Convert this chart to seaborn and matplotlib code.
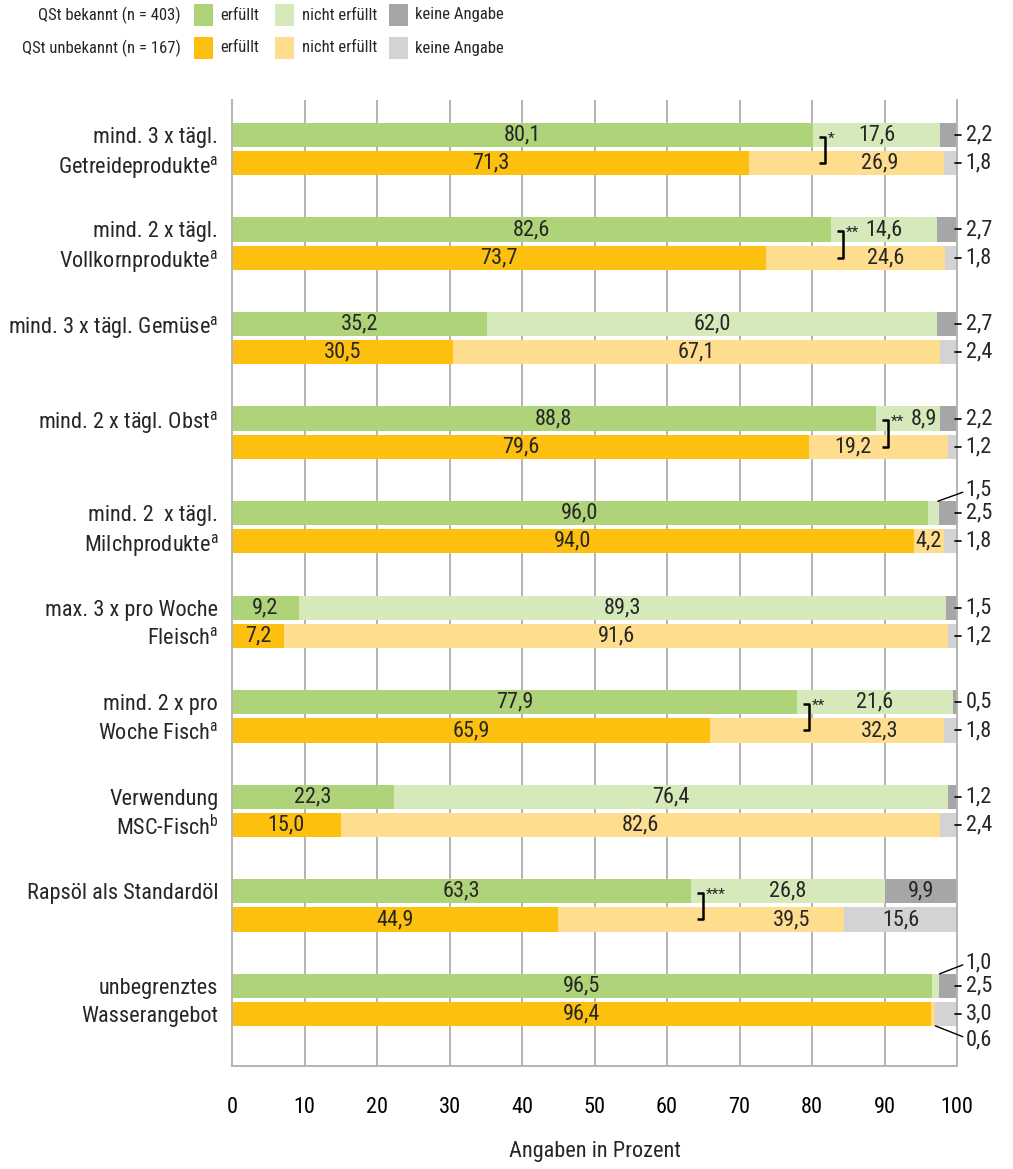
import matplotlib
matplotlib.use("Agg")
import numpy as np
import pandas as pd
import seaborn as sns
import matplotlib.pyplot as plt
from matplotlib import font_manager as fm
from matplotlib.patches import Rectangle

# ---------------- data ----------------
line1 = ["mind. 3 x tägl.", "mind. 2 x tägl.",
         "mind. 3 x tägl. Gemüse$^{\\mathrm{a}}$", "mind. 2 x tägl. Obst$^{\\mathrm{a}}$",
         "mind. 2  x tägl.", "max. 3 x pro Woche", "mind. 2 x pro", "Verwendung",
         "Rapsöl als Standardöl", "unbegrenztes"]
line2 = ["Getreideprodukte$^{\\mathrm{a}}$", "Vollkornprodukte$^{\\mathrm{a}}$", "", "",
         "Milchprodukte$^{\\mathrm{a}}$", "Fleisch$^{\\mathrm{a}}$", "Woche Fisch$^{\\mathrm{a}}$",
         "MSC-Fisch$^{\\mathrm{b}}$", "", "Wasserangebot"]

known_met = [80.1, 82.6, 35.2, 88.8, 96.0, 9.2, 77.9, 22.3, 63.3, 96.5]
known_not = [17.6, 14.6, 62.0, 8.9, 1.5, 89.3, 21.6, 76.4, 26.8, 1.0]
known_na = [2.2, 2.7, 2.7, 2.2, 2.5, 1.5, 0.5, 1.2, 9.9, 2.5]
unk_met = [71.3, 73.7, 30.5, 79.6, 94.0, 7.2, 65.9, 15.0, 44.9, 96.4]
unk_not = [26.9, 24.6, 67.1, 19.2, 4.2, 91.6, 32.3, 82.6, 39.5, 0.6]
unk_na = [1.8, 1.8, 2.4, 1.2, 1.8, 1.2, 1.8, 2.4, 15.6, 3.0]
sig = ["*", "**", "", "**", "", "", "**", "", "***", ""]

groups = ["QSt bekannt (n = 403)", "QSt unbekannt (n = 167)"]
legend_items = ["erfüllt", "nicht erfüllt", "keine Angabe"]
xticks = list(range(0, 101, 10))
xlabel = "Angaben in Prozent"

# ---------------- style ----------------
C_GREEN, C_LGREEN, C_DGRAY = "#afd379", "#d6e9bb", "#a6a6a9"
C_ORANGE, C_LORANGE, C_LGRAY = "#fec00f", "#ffdd8f", "#d3d3d5"
GRID = "#b4b4b4"

def pick_font(names):
    for n in names:
        try:
            fm.findfont(fm.FontProperties(family=n), fallback_to_default=False)
            return n
        except Exception:
            pass
    return "DejaVu Sans"

FONT = pick_font(["Liberation Sans Narrow", "Roboto Condensed", "Open Sans Condensed", "Liberation Sans"])

sns.set_theme(style="white")
plt.rcParams["font.family"] = [FONT, "DejaVu Sans"]
plt.rcParams["mathtext.fontset"] = "custom"
plt.rcParams["mathtext.rm"] = FONT
plt.rcParams["mathtext.it"] = FONT
plt.rcParams["mathtext.bf"] = FONT

FS = 16
FS_LEG = 12

# ---------------- frame ----------------
cats = [f"c{i}" for i in range(len(line1))]
rows = []
for i, c in enumerate(cats):
    rows.append(dict(cat=c, group=groups[0], met=known_met[i], nmet=known_not[i], na=known_na[i]))
    rows.append(dict(cat=c, group=groups[1], met=unk_met[i], nmet=unk_not[i], na=unk_na[i]))
df = pd.DataFrame(rows)
df["cum1"] = df["met"]
df["cum2"] = df["met"] + df["nmet"]
df["cum3"] = df["met"] + df["nmet"] + df["na"]

W, H = 1013, 1169
fig = plt.figure(figsize=(W / 100, H / 100), dpi=100)
ax = fig.add_axes([232 / W, 1 - 1066 / H, 725 / W, 966 / H])

for col, pal in [("cum3", [C_DGRAY, C_LGRAY]), ("cum2", [C_LGREEN, C_LORANGE]), ("cum1", [C_GREEN, C_ORANGE])]:
    sns.barplot(data=df, x=col, y="cat", hue="group", order=cats, hue_order=groups,
                palette=pal, orient="h", width=0.6, gap=0.15, dodge=True, saturation=1,
                errorbar=None, legend=False, linewidth=0, ax=ax, zorder=2)

ax.set_xlim(0, 100)
ax.set_ylim(9.70, -0.52)
ax.set_yticks([])
ax.set_ylabel("")
ax.set_xlabel("")
ax.set_xticks(xticks)
ax.set_xticklabels([str(t) for t in xticks], fontsize=FS)
ax.tick_params(axis="x", length=0, pad=22, colors="black")
for t in xticks[1:-1]:
    ax.axvline(t, color=GRID, lw=1.4, zorder=0.5)
for s in ["left", "right", "bottom"]:
    ax.spines[s].set_color(GRID)
    ax.spines[s].set_linewidth(1.4)
    ax.spines[s].set_visible(True)
ax.spines["top"].set_visible(False)
ax.set_facecolor("white")

fig.text(594.5 / W, 1 - 1152 / H, xlabel, ha="center", va="center", fontsize=FS)

# manual label nudges (annotation layout, in percent units)
not_label_override = {(0, 1): 89.4, (1, 1): 90.1, (3, 0): 95.4, (3, 1): 85.7,
                      (6, 1): 89.4, (8, 1): 77.2}
OFF = 0.15
fmt = lambda v: f"{v:.1f}".replace(".", ",")

for i in range(len(cats)):
    yg, yo = i - OFF, i + OFF
    # category labels
    ax.text(-1.9, yg, line1[i], ha="right", va="center_baseline", fontsize=FS, clip_on=False)
    if line2[i]:
        ax.text(-1.9, yo, line2[i], ha="right", va="center_baseline", fontsize=FS, clip_on=False)
    for g, (met, nm, na, y) in enumerate([(known_met[i], known_not[i], known_na[i], yg),
                                          (unk_met[i], unk_not[i], unk_na[i], yo)]):
        ax.text(met / 2, y, fmt(met), ha="center", va="center", fontsize=FS, zorder=5)
        if nm >= 3:
            xn = not_label_override.get((i, g), met + nm / 2)
            ax.text(xn, y, fmt(nm), ha="center", va="center", fontsize=FS, zorder=5)
        if na >= 5:
            ax.text(met + nm + na / 2, y, fmt(na), ha="center", va="center", fontsize=FS, zorder=5)
        else:
            ax.plot([99.7, 100.6], [y, y], color="black", lw=1.2, clip_on=False, zorder=5)
            ax.text(101.2, y, fmt(na), ha="left", va="center", fontsize=FS, clip_on=False)
    # small "nicht erfüllt" values outside with leader lines
    if known_not[i] < 3:
        ly = yg - 0.24
        ax.plot([known_met[i] + known_not[i] / 2 + 0.6, 100.8], [yg - 0.125, ly + 0.02],
                color="black", lw=1.0, clip_on=False, zorder=5)
        ax.text(101.2, ly, fmt(known_not[i]), ha="left", va="center", fontsize=FS, clip_on=False)
    if unk_not[i] < 3:
        ly = yo + 0.27
        ax.plot([unk_met[i] + unk_not[i] / 2 + 0.3, 100.8], [yo + 0.125, ly - 0.03],
                color="black", lw=1.0, clip_on=False, zorder=5)
        ax.text(101.2, ly, fmt(unk_not[i]), ha="left", va="center", fontsize=FS, clip_on=False)
    # significance bracket
    if sig[i]:
        xv = known_met[i] + 1.7
        x0 = known_met[i] + 0.9
        ax.plot([x0, xv, xv, x0], [yg + 0.02, yg + 0.02, yo, yo], color="black", lw=1.8,
                solid_capstyle="butt", zorder=6)
        ax.text(xv + 0.4, yg + 0.04, sig[i], ha="left", va="center", fontsize=11, zorder=6)

# ---------------- legend ----------------
leg_colors = [[C_GREEN, C_LGREEN, C_DGRAY], [C_ORANGE, C_LORANGE, C_LGRAY]]
patch_x = [194, 275, 389]
text_x = [220, 302, 415]
row_y = [15, 48]
for r in range(2):
    yc = row_y[r]
    fig.text(181 / W, 1 - yc / H, groups[r], ha="right", va="center", fontsize=FS_LEG)
    for k in range(3):
        fig.patches.append(Rectangle((patch_x[k] / W, 1 - (yc + 11) / H), 19 / W, 22 / H,
                                     transform=fig.transFigure, color=leg_colors[r][k], lw=0))
        fig.text(text_x[k] / W, 1 - yc / H, legend_items[k], ha="left", va="center",
                 fontsize=FS_LEG)

fig.savefig("out.png", dpi=100, facecolor="white")
